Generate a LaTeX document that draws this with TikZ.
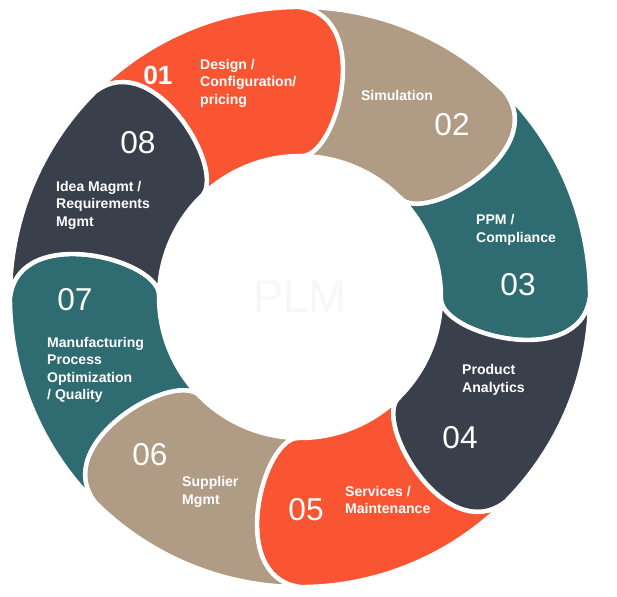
\documentclass[tikz,border=0pt]{standalone}
\usepackage{fontspec}
\setmainfont{Liberation Sans}
\definecolor{plmorange}{HTML}{FA5532}
\definecolor{plmtan}{HTML}{B09B84}
\definecolor{plmteal}{HTML}{2E6C71}
\definecolor{plmdark}{HTML}{3A404B}
\begin{document}
\begin{tikzpicture}[x=0.02cm,y=0.02cm,
  seglabel/.style={text=white,font=\bfseries\fontsize{8}{10}\selectfont,align=left},
  segnum/.style={text=white,font=\fontsize{18}{20}\selectfont}]
\useasboundingbox (0,0) rectangle (617,596);
%ring of segments
\begin{scope}[shift={(300,299)}]
\foreach \a/\col in {135/plmorange,90/plmtan,45/plmteal,0/plmdark,-45/plmorange,-90/plmtan,-135/plmteal,180/plmdark}{
  \filldraw[fill=\col,draw=white,line width=2.5pt]
    (\a:290) arc[start angle=\a,end angle=\a-45,radius=290]
    .. controls (\a-60:290) and (\a-60:141) .. (\a-45:141)
    arc[start angle=\a-45,end angle=\a,radius=141]
    .. controls (\a-15:141) and (\a-15:290) .. cycle;
}
\fill[white] (0,0) circle (141);
\node[text=gray!6,font=\fontsize{26}{28}\selectfont] (plm) at (0,0) {PLM};
\end{scope}
%numbers
\node[segnum,font=\bfseries\fontsize{15}{18}\selectfont] (n01) at (158,521) {01};
\node[segnum] (n02) at (452,471) {02};
\node[segnum] (n03) at (518,311) {03};
\node[segnum] (n04) at (460,158) {04};
\node[segnum] (n05) at (306,86) {05};
\node[segnum] (n06) at (150,141) {06};
\node[segnum] (n07) at (75,296) {07};
\node[segnum] (n08) at (138,453) {08};
%labels
\node[seglabel,anchor=west] (l01) at (194,513) {Design /\\Configuration/\\pricing};
\node[seglabel] (l02) at (397,501) {Simulation};
\node[seglabel,anchor=west] (l03) at (470,366) {PPM /\\Compliance};
\node[seglabel,anchor=west] (l04) at (456,216) {Product\\Analytics};
\node[seglabel,anchor=west] (l05) at (339,96) {Services /\\Maintenance};
\node[seglabel,anchor=west] (l06) at (176,104) {Supplier\\Mgmt};
\node[seglabel,anchor=west] (l07) at (41,226) {Manufacturing\\Process\\Optimization\\/ Quality};
\node[seglabel,anchor=west] (l08) at (50,391) {Idea Magmt /\\Requirements\\Mgmt};
\end{tikzpicture}
\end{document}
